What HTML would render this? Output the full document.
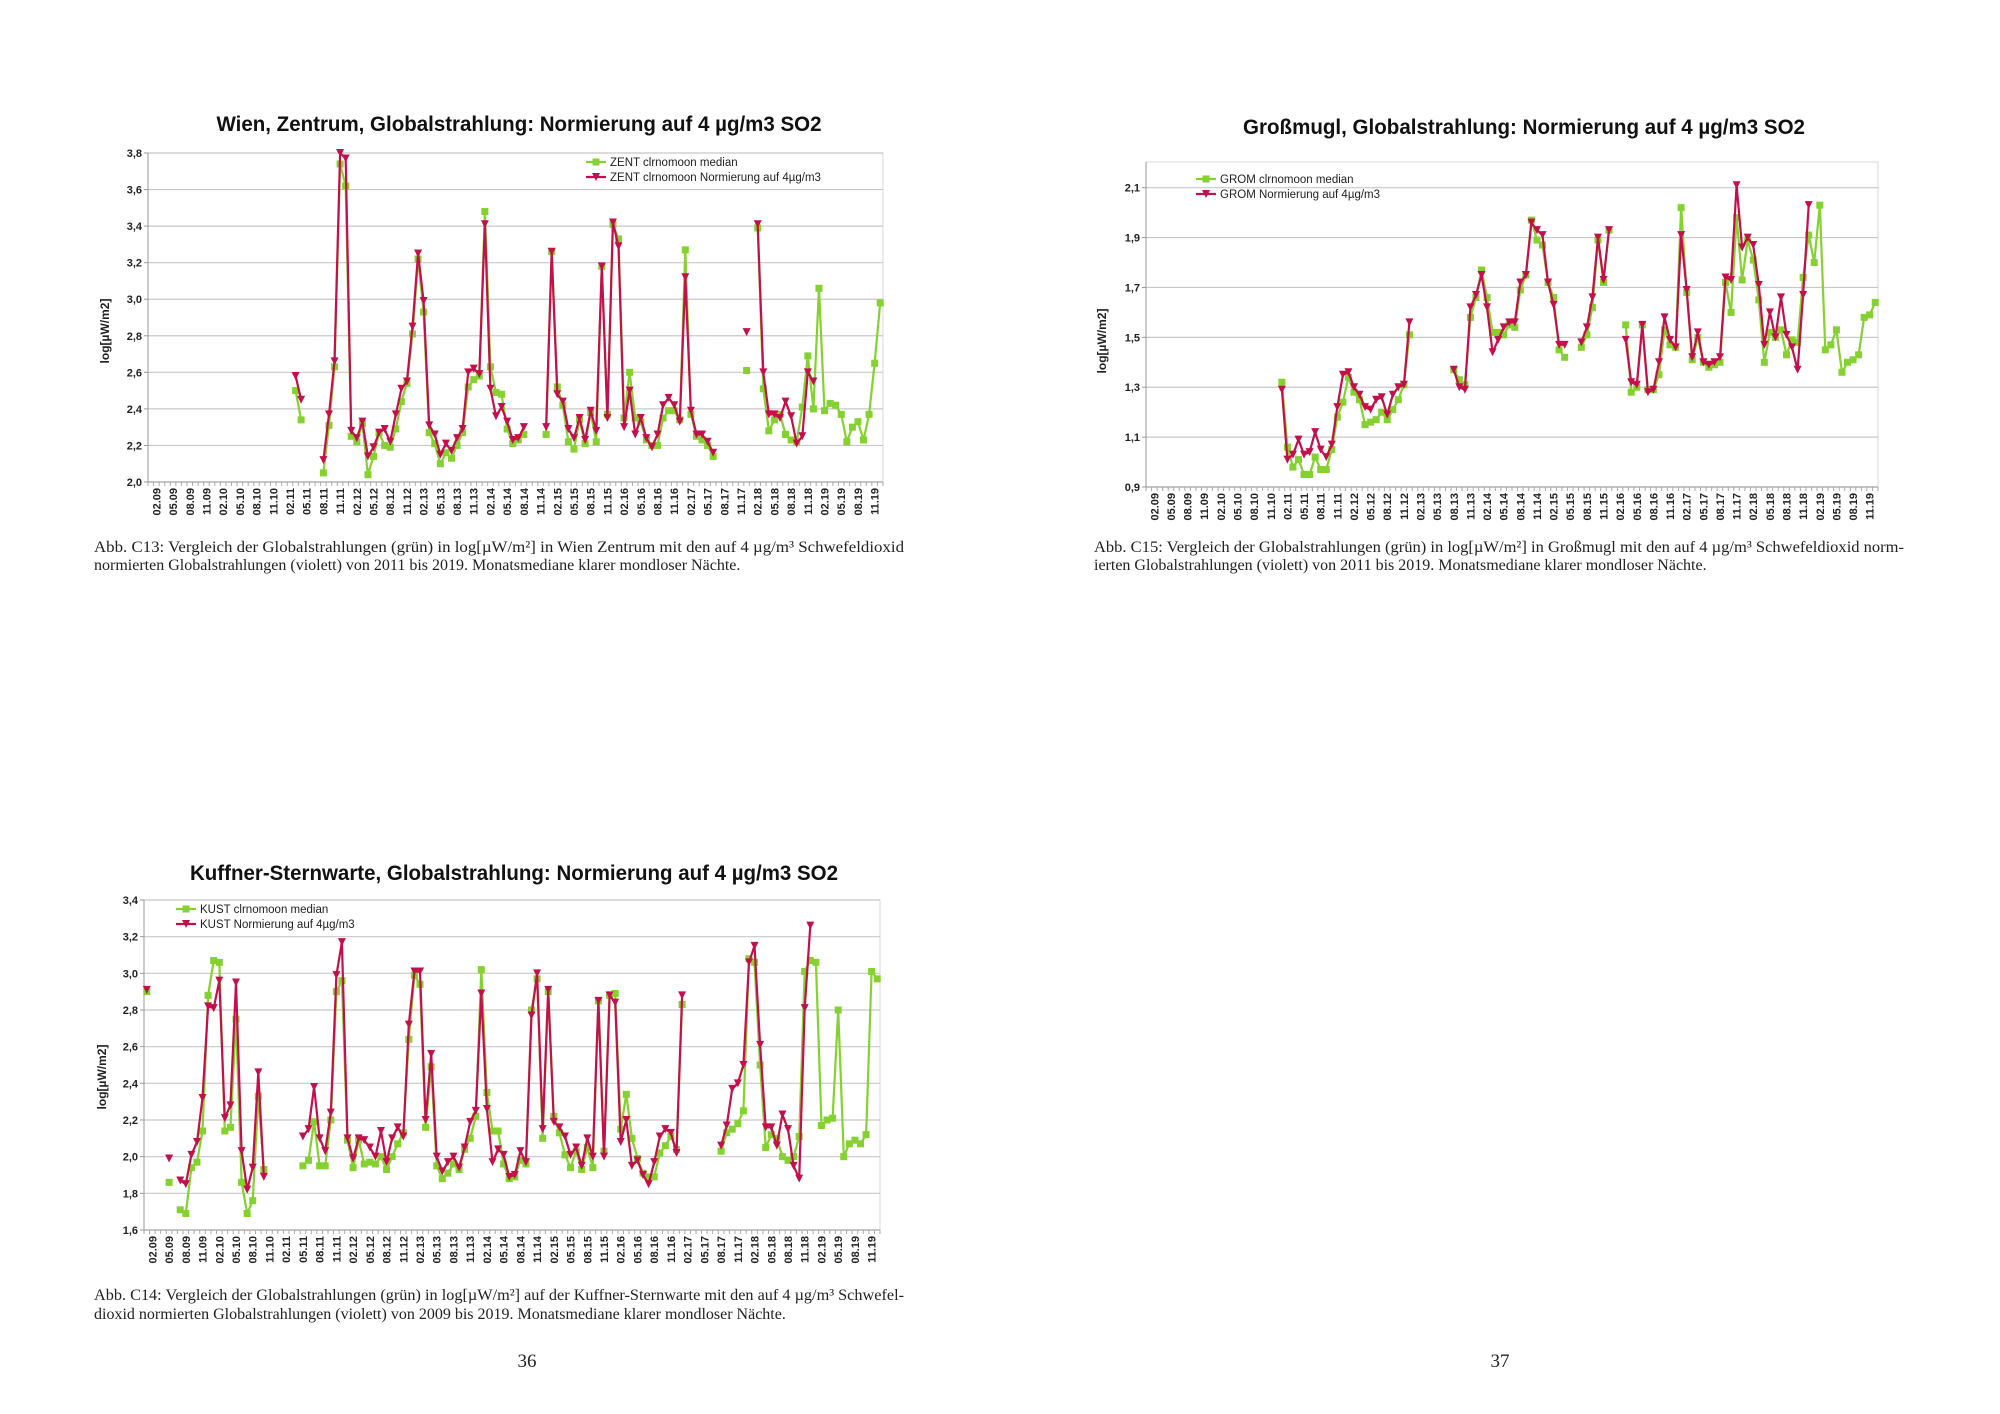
<!DOCTYPE html>
<html><head><meta charset="utf-8"><style>
html,body{margin:0;padding:0;background:#fff}
svg{display:block}
</style></head><body>
<svg id="s" width="2000" height="1414" viewBox="0 0 2000 1414" xmlns="http://www.w3.org/2000/svg">
<rect width="2000" height="1414" fill="#fff"/>
<g font-family="Liberation Serif, serif" font-size="16" fill="#222">
<text x="94" y="552" textLength="810" lengthAdjust="spacingAndGlyphs">Abb. C13: Vergleich der Globalstrahlungen (grün) in log[µW/m²] in Wien Zentrum mit den auf 4 µg/m³ Schwefeldioxid</text>
<text x="94" y="570">normierten Globalstrahlungen (violett) von 2011 bis 2019. Monatsmediane klarer mondloser Nächte.</text>
<text x="1094" y="552" textLength="810" lengthAdjust="spacingAndGlyphs">Abb. C15: Vergleich der Globalstrahlungen (grün) in log[µW/m²] in Großmugl mit den auf 4 µg/m³ Schwefeldioxid norm-</text>
<text x="1094" y="570">ierten Globalstrahlungen (violett) von 2011 bis 2019. Monatsmediane klarer mondloser Nächte.</text>
<text x="94" y="1300" textLength="810" lengthAdjust="spacingAndGlyphs">Abb. C14: Vergleich der Globalstrahlungen (grün) in log[µW/m²] auf der Kuffner-Sternwarte mit den auf 4 µg/m³ Schwefel-</text>
<text x="94" y="1319">dioxid normierten Globalstrahlungen (violett) von 2009 bis 2019. Monatsmediane klarer mondloser Nächte.</text>
<text x="527" y="1367" font-size="19" text-anchor="middle">36</text>
<text x="1500" y="1367" font-size="19" text-anchor="middle">37</text>
</g>
</svg>
<script>
var NS="http://www.w3.org/2000/svg",S=document.getElementById("s");
function el(t,a,txt,p){var e=document.createElementNS(NS,t);for(var k in a)e.setAttribute(k,a[k]);if(txt!=null)e.textContent=txt;(p||S).appendChild(e);return e;}
var labs=[];for(var y=9;y<=19;y++){["02","05","08","11"].forEach(function(m){labs.push([m+"."+(y<10?"0"+y:y),(+m-1)+(y-9)*12]);});}
function chart(c){
 var g=el("g",{});
 var L=c.L,R=c.R,T=c.T,B=c.B,w=(R-L)/132;
 function X(i){return L+(i+0.5)*w;}
 function Y(v){return B-(v-c.ymin)/(c.ymax-c.ymin)*(B-T);}
 el("rect",{x:L,y:T,width:R-L,height:B-T,fill:"#fff",stroke:"#d8d8d8"},null,g);
 c.ticks.forEach(function(v){var yy=Y(v);
  el("line",{x1:L,x2:R,y1:yy,y2:yy,stroke:"#c8c8c8","stroke-width":1.2},null,g);
  el("line",{x1:L-4,x2:L,y1:yy,y2:yy,stroke:"#999"},null,g);
  el("text",{x:L-6,y:yy+4,"text-anchor":"end","font-family":"Liberation Sans, sans-serif","font-size":11,"font-weight":"bold",fill:"#222"},v.toFixed(1).replace(".",","),g);});
 el("line",{x1:L,x2:L,y1:T,y2:B,stroke:"#999"},null,g);
 el("line",{x1:L,x2:R,y1:B,y2:B,stroke:"#999"},null,g);
 for(var i=0;i<=132;i++)el("line",{x1:L+i*w,x2:L+i*w,y1:B,y2:B+4,stroke:"#aaa"},null,g);
 labs.forEach(function(l){var xx=X(l[1])+4;
  el("text",{x:0,y:0,transform:"translate("+xx+","+(B+6)+") rotate(-90)","text-anchor":"end","font-family":"Liberation Sans, sans-serif","font-size":11,"font-weight":"bold",fill:"#222"},l[0],g);});
 el("text",{x:0,y:0,transform:"translate("+c.yt[0]+","+c.yt[1]+") rotate(-90)","text-anchor":"middle","font-family":"Liberation Sans, sans-serif","font-size":12,"font-weight":"bold",fill:"#222"},"log[µW/m2]",g);
 el("text",{x:c.title[1],y:c.title[2],"text-anchor":"middle","font-family":"Liberation Sans, sans-serif","font-size":21,"font-weight":"bold",fill:"#111",textLength:c.title[3],lengthAdjust:"spacingAndGlyphs"},c.title[0],g);
 function draw(segs,col,tri){
  segs.forEach(function(s){var pts=s[1].map(function(v,k){return [X(s[0]+k),Y(v)];});
   if(pts.length>1)el("polyline",{points:pts.map(function(p){return p[0].toFixed(1)+","+p[1].toFixed(1);}).join(" "),fill:"none",stroke:col,"stroke-width":2.2,"stroke-linejoin":"round"},null,g);
   pts.forEach(function(p){if(tri)el("polygon",{points:(p[0]-4)+","+(p[1]-4)+" "+(p[0]+4)+","+(p[1]-4)+" "+p[0]+","+(p[1]+4),fill:col},null,g);
    else el("rect",{x:p[0]-3.5,y:p[1]-3.5,width:7,height:7,fill:col},null,g);});});}
 draw(c.G,"#84d130",false);draw(c.Rd,"#c4104a",true);
 var lx=c.leg[0],ly=c.leg[1];
 [["#84d130",false,c.ln[0]],["#c4104a",true,c.ln[1]]].forEach(function(o,k){var yy=ly+k*15;
  el("line",{x1:lx,x2:lx+20,y1:yy,y2:yy,stroke:o[0],"stroke-width":2.2},null,g);
  if(o[1])el("polygon",{points:(lx+6)+","+(yy-4)+" "+(lx+14)+","+(yy-4)+" "+(lx+10)+","+(yy+4),fill:o[0]},null,g);
  else el("rect",{x:lx+6.5,y:yy-3.5,width:7,height:7,fill:o[0]},null,g);
  el("text",{x:lx+24,y:yy+4,"font-family":"Liberation Sans, sans-serif","font-size":11.5,fill:"#222"},o[2],g);});
}
chart({L:148,R:883,T:153,B:482,ymin:2.0,ymax:3.8,ticks:[2.0,2.2,2.4,2.6,2.8,3.0,3.2,3.4,3.6,3.8],yt:[109,331],
 title:["Wien, Zentrum, Globalstrahlung: Normierung auf 4 µg/m3 SO2",519,131,605],leg:[586,162],
 ln:["ZENT clrnomoon median","ZENT clrnomoon Normierung auf 4µg/m3"],
 G:[[26,[2.50,2.34]],[31,[2.05,2.31,2.63,3.74,3.62,2.25,2.22,2.32,2.04,2.14,2.27,2.20,2.19,2.29,2.44,2.54,2.81,3.22,2.93,2.27,2.21,2.10,2.16,2.13,2.20,2.27,2.52,2.56,2.58,3.48,2.63,2.49,2.48,2.29,2.21,2.23,2.26]],
 [71,[2.26,3.26,2.52,2.42,2.22,2.18,2.34,2.21,2.38,2.22,3.18,2.37,3.41,3.33,2.35,2.60,2.35,2.33,2.23,2.20,2.20,2.35,2.39,2.39,2.34,3.27,2.37,2.25,2.23,2.20,2.14]],
 [107,[2.61]],[109,[3.39,2.51,2.28,2.34,2.37,2.26,2.23,2.22,2.41,2.69,2.40,3.06,2.39,2.43,2.42,2.37,2.22,2.30,2.33,2.23,2.37,2.65,2.98]]],
 Rd:[[26,[2.58,2.45]],[31,[2.12,2.37,2.66,3.80,3.77,2.28,2.24,2.33,2.14,2.19,2.27,2.29,2.22,2.37,2.51,2.55,2.85,3.25,2.99,2.31,2.26,2.15,2.21,2.17,2.24,2.29,2.60,2.62,2.59,3.41,2.51,2.36,2.41,2.33,2.23,2.24,2.30]],
 [71,[2.30,3.26,2.48,2.44,2.29,2.24,2.35,2.23,2.39,2.28,3.18,2.35,3.42,3.29,2.30,2.50,2.26,2.35,2.24,2.19,2.26,2.42,2.46,2.42,2.33,3.12,2.39,2.26,2.26,2.22,2.16]],
 [107,[2.82]],[109,[3.41,2.60,2.37,2.37,2.35,2.44,2.36,2.21,2.25,2.60,2.55]]]});
chart({L:1146,R:1878,T:162,B:487,ymin:0.9,ymax:2.203,ticks:[0.9,1.1,1.3,1.5,1.7,1.9,2.1],yt:[1106,341],
 title:["Großmugl, Globalstrahlung: Normierung auf 4 µg/m3 SO2",1524,134,562],leg:[1196,179],
 ln:["GROM clrnomoon median","GROM Normierung auf 4µg/m3"],
 G:[[24,[1.32,1.06,0.98,1.01,0.95,0.95,1.02,0.97,0.97,1.05,1.18,1.24,1.34,1.28,1.25,1.15,1.16,1.17,1.20,1.17,1.21,1.25,1.31,1.51]],
 [55,[1.37,1.33,1.31,1.58,1.66,1.77,1.66,1.52,1.52,1.51,1.55,1.54,1.69,1.75,1.97,1.89,1.87,1.72,1.66,1.45,1.42]],
 [78,[1.46,1.51,1.62,1.89,1.72,1.93]],
 [86,[1.55,1.28,1.30,1.55,1.29,1.29,1.35,1.53,1.47,1.46,2.02,1.68,1.41,1.50,1.40,1.38,1.39,1.40,1.72,1.60,1.98,1.73,1.89,1.81,1.65,1.40,1.52,1.50,1.53,1.43,1.49,1.48,1.74,1.91,1.80,2.03,1.45,1.47,1.53,1.36,1.40,1.41,1.43,1.58,1.59,1.64]]],
 Rd:[[24,[1.29,1.01,1.03,1.09,1.03,1.04,1.12,1.05,1.02,1.07,1.22,1.35,1.36,1.30,1.27,1.22,1.21,1.25,1.26,1.19,1.27,1.30,1.31,1.56]],
 [55,[1.37,1.30,1.29,1.62,1.67,1.75,1.62,1.44,1.49,1.54,1.56,1.56,1.72,1.75,1.96,1.93,1.91,1.72,1.63,1.47,1.47]],
 [78,[1.48,1.54,1.66,1.90,1.73,1.93]],
 [86,[1.49,1.32,1.31,1.55,1.28,1.29,1.40,1.58,1.49,1.46,1.91,1.69,1.42,1.52,1.40,1.39,1.40,1.42,1.74,1.73,2.11,1.86,1.90,1.87,1.71,1.47,1.60,1.50,1.66,1.51,1.46,1.37,1.67,2.03]]]});
chart({L:144,R:880,T:900,B:1230,ymin:1.6,ymax:3.4,ticks:[1.6,1.8,2.0,2.2,2.4,2.6,2.8,3.0,3.2,3.4],yt:[106,1077],
 title:["Kuffner-Sternwarte, Globalstrahlung: Normierung auf 4 µg/m3 SO2",514,880,648],leg:[176,909],
 ln:["KUST clrnomoon median","KUST Normierung auf 4µg/m3"],
 G:[[0,[2.90]],[4,[1.86]],[6,[1.71,1.69,1.94,1.97,2.14,2.88,3.07,3.06,2.14,2.16,2.75,1.86,1.69,1.76,2.33,1.93]],
 [28,[1.95,1.98,2.19,1.95,1.95,2.20,2.90,2.96,2.09,1.94,2.09,1.96,1.97,1.96,2.00,1.93,2.00,2.07,2.13,2.64,2.99,2.94,2.16,2.49,1.95,1.88,1.91,1.96,1.93,2.04,2.10,2.22,3.02,2.35,2.14,2.14,1.96,1.88,1.89,1.98,1.96,2.80,2.97,2.10,2.90,2.22,2.13,2.01,1.94,2.03,1.93,2.05,1.94,2.85,2.03,2.88,2.89,2.15,2.34,2.10,1.99,1.91,1.89,1.89,2.02,2.06,2.11,2.04,2.83]],
 [103,[2.03,2.13,2.15,2.18,2.25,3.08,3.06,2.50,2.05,2.12,2.10,2.00,1.98,2.00,2.11,3.01,3.07,3.06,2.17,2.20,2.21,2.80,2.00,2.07,2.09,2.07,2.12,3.01,2.97]]],
 Rd:[[0,[2.91]],[4,[1.99]],[6,[1.87,1.85,2.01,2.08,2.32,2.82,2.81,2.96,2.21,2.28,2.95,2.03,1.82,1.94,2.46,1.89]],
 [28,[2.11,2.15,2.38,2.10,2.03,2.24,2.99,3.17,2.10,1.99,2.10,2.09,2.05,2.00,2.14,1.97,2.10,2.16,2.11,2.72,3.01,3.01,2.20,2.56,2.00,1.92,1.97,2.00,1.94,2.05,2.19,2.25,2.89,2.26,1.97,2.04,2.01,1.89,1.90,2.03,1.97,2.77,3.00,2.15,2.91,2.19,2.16,2.11,2.01,2.05,1.95,2.10,2.00,2.85,2.00,2.88,2.84,2.08,2.20,1.95,1.98,1.90,1.85,1.97,2.11,2.15,2.13,2.02,2.88]],
 [103,[2.06,2.17,2.37,2.40,2.50,3.06,3.15,2.61,2.16,2.16,2.06,2.23,2.15,1.95,1.88,2.81,3.26]]]});
</script>
</body></html>
